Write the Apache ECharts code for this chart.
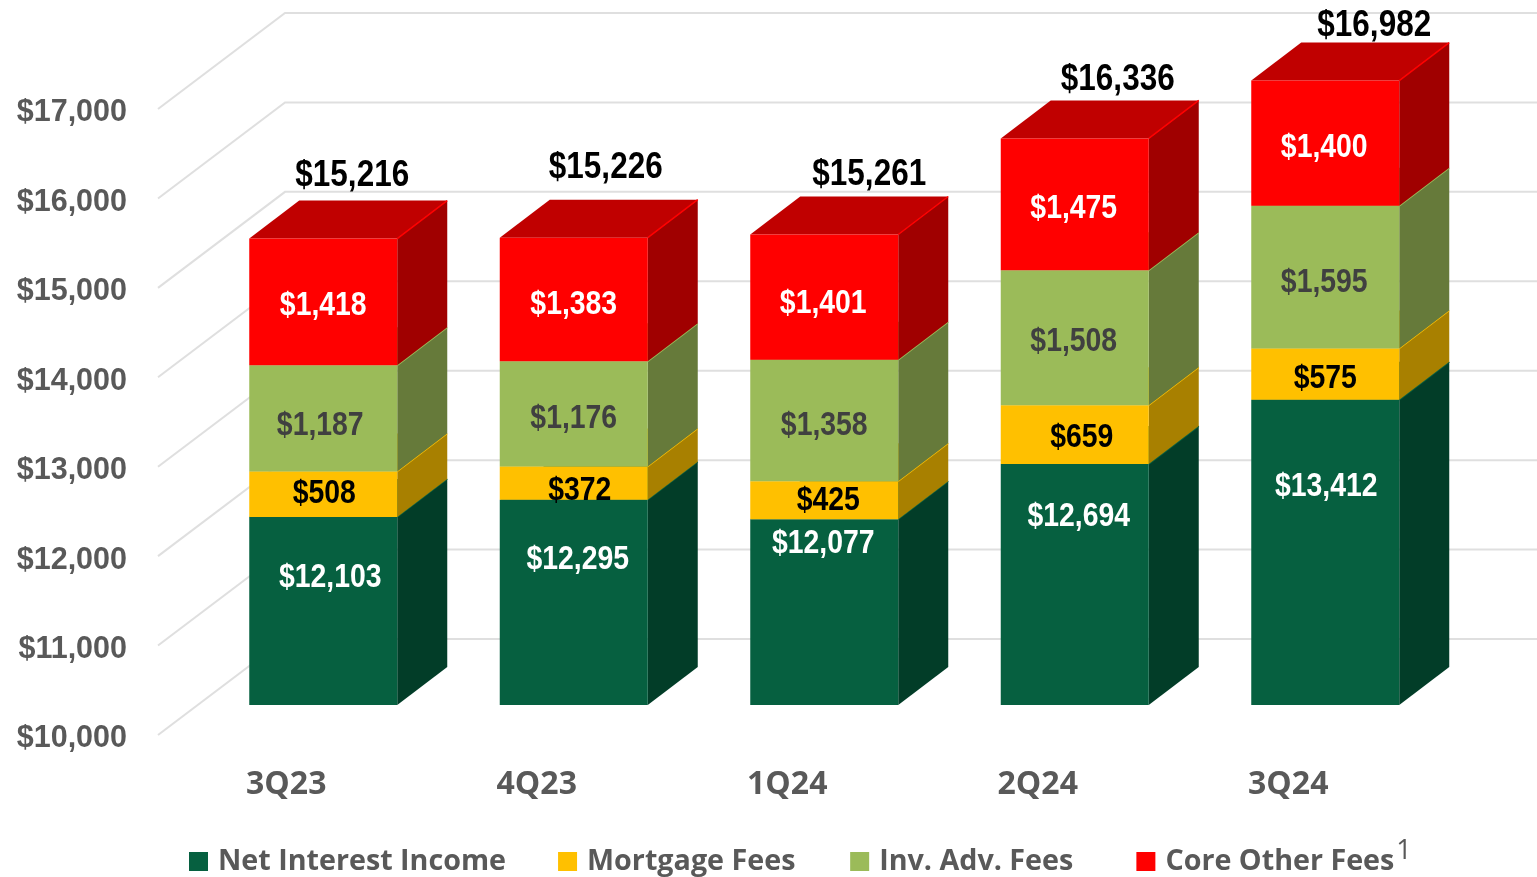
<!DOCTYPE html>
<html><head><meta charset="utf-8">
<style>html,body{margin:0;padding:0;background:#fff}#c{width:1537px;height:877px}</style>
<script src="https://cdn.jsdelivr.net/npm/echarts@6/dist/echarts.min.js"></script>
</head><body><div id="c"></div>
<script>
const categories = ['3Q23','4Q23','1Q24','2Q24','3Q24'];
const netInterestIncome = [12103,12295,12077,12694,13412];
const mortgageFees = [508,372,425,659,575];
const invAdvFees = [1187,1176,1358,1508,1595];
const coreOtherFees = [1418,1383,1401,1475,1400];
const totals = [15216,15226,15261,16336,16982];
const yTicks = [10000,11000,12000,13000,14000,15000,16000,17000];
const Y_MIN = 10000, Y_MAX = 17000;

// Presentation only: pseudo-3D projection and label nudges (pixels)
const WALL = {dx:127, dy:-96};
const FRONT = {dx:37, dy:-30};
const BAR_W = 148, SIDE = {dx:50, dy:-38};
const SANS = '"Liberation Sans",Arial,sans-serif';
const LABEL_DROP = 3;
const nudge = {
  'Net Interest Income': [[7,-36],[4,-45],[-1,-71],[4,-71],[1,-69]],
  'Mortgage Fees': [[1,-3],[6,5],[4,-2],[7,0],[0,2]],
  'Inv. Adv. Fees': [[-3,4],[0,2],[0,2],[-1,1],[-1,3]],
  'Core Other Fees': [[0,1],[0,2],[-1,4],[-1,2],[-1,2]]
};
const totalNudge = [[29,-65],[32,-73],[45,-62],[43,-61],[49,-58]];

const fmt = v => '$' + v.toLocaleString('en-US');
let base = categories.map(() => 0);
function stacked(vals){
  const rows = vals.map((v,i) => [i, base[i], base[i]+v, v]);
  base = base.map((b,i) => b + vals[i]);
  return rows;
}
function boxSeries(name, vals, front, side, top, textColor){
  return {
    name, type:'custom', coordinateSystem:'cartesian2d', clip:false, z:3,
    itemStyle:{color:front},
    encode:{x:0,y:[1,2]},
    data: stacked(vals),
    renderItem(params, api){
      const c = api.coord([api.value(0), Math.max(api.value(1), Y_MIN)]);
      const t = api.coord([api.value(0), api.value(2)]);
      const x0 = c[0] + FRONT.dx - BAR_W/2, x1 = x0 + BAR_W;
      const yb = c[1] + FRONT.dy, yt = t[1] + FRONT.dy;
      const i = api.value(0), n = nudge[name][i];
      const kids = [
        {type:'polygon',shape:{points:[[x1,yb],[x1+SIDE.dx,yb+SIDE.dy],[x1+SIDE.dx,yt+SIDE.dy],[x1,yt]]},style:{fill:side}},
        {type:'polygon',shape:{points:[[x0,yt],[x1,yt],[x1+SIDE.dx,yt+SIDE.dy],[x0+SIDE.dx,yt+SIDE.dy]]},style:{fill:top}},
        {type:'rect',shape:{x:x0,y:yt,width:BAR_W,height:yb-yt},style:{fill:front}},
        {type:'polyline',shape:{points:[[x1,yt],[x1+SIDE.dx,yt+SIDE.dy]]},style:{fill:'none',stroke:front,lineWidth:1.5}},
        {type:'text',z2:10,x:(x0+x1)/2+n[0],y:(yt+yb)/2+n[1]+LABEL_DROP,scaleX:0.86,
          style:{text:fmt(api.value(3)),x:0,y:0,align:'center',verticalAlign:'middle',
          font:'bold 33px '+SANS,fill:textColor}}
      ];
      return {type:'group',children:kids};
    }
  };
}
const gridSeries = {
  name:'grid', type:'custom', coordinateSystem:'cartesian2d', clip:false, z:1, silent:true,
  encode:{y:0}, data: yTicks.map(v => [v]),
  renderItem(params, api){
    const p = api.coord([0, api.value(0)]);
    const lx = 158, ly = p[1];
    return {type:'polyline',shape:{points:[[lx,ly],[lx+WALL.dx,ly+WALL.dy],[api.getWidth(),ly+WALL.dy]]},
      style:{fill:'none',stroke:'#dfdfdf',lineWidth:2}};
  }
};
const totalSeries = {
  name:'total', type:'custom', coordinateSystem:'cartesian2d', clip:false, z:4, silent:true,
  encode:{x:0,y:1}, data: totals.map((v,i)=>[i,v]),
  renderItem(params, api){
    const i = api.value(0), p = api.coord([i, api.value(1)]), n = totalNudge[i];
    return {type:'text',x:p[0]+FRONT.dx+n[0],y:p[1]+FRONT.dy+n[1]+LABEL_DROP,scaleX:0.875,
      style:{text:fmt(api.value(1)),x:0,y:0,align:'center',verticalAlign:'middle',
      font:'bold 36px '+SANS,fill:'#000'}};
  }
};
const legendFont = {fontFamily:'"Open Sans",sans-serif',fontWeight:'bold',fontSize:28.7,color:'#595959'};
const option = {
  animation:false, backgroundColor:'#fff',
  grid:{left:161, top:109, width:1252.5, height:626, outerBoundsMode:'none'},
  legend:{
    left:189, top:838, padding:0, itemWidth:19, itemHeight:19, itemGap:52, icon:'rect',
    data:['Net Interest Income','Mortgage Fees','Inv. Adv. Fees','Core Other Fees'],
    selectedMode:false,
    formatter:n => n==='Core Other Fees' ? '{b|'+n+'}{s|1}' : n==='Inv. Adv. Fees' ? '{b|'+n+'}{g2|    }' : n==='Mortgage Fees' ? '{b|'+n+'}{g1| }' : '{b|'+n+'}',
    textStyle:{rich:{
      b:{...legendFont,padding:[0,0,0,5]},
      g1:{fontSize:10},
      g2:{fontSize:10},
      s:{fontFamily:'"Open Sans",sans-serif',fontSize:27,color:'#595959',verticalAlign:'top',padding:[0,0,20,2]}
    }}
  },
  xAxis:{type:'category',data:categories,axisLine:{show:false},axisTick:{show:false},splitLine:{show:false},
    axisLabel:{margin:34,color:'#595959',fontFamily:'"Open Sans",sans-serif',fontWeight:'bold',fontSize:32}},
  yAxis:{type:'value',min:Y_MIN,max:Y_MAX,interval:1000,axisLine:{show:false},axisTick:{show:false},splitLine:{show:false},
    axisLabel:{margin:34,color:'#595959',fontFamily:SANS,fontWeight:'bold',fontSize:30.5,verticalAlign:'top',lineHeight:8,formatter:v=>fmt(v)}},
  series:[
    gridSeries,
    boxSeries('Net Interest Income',netInterestIncome,'#066040','#023d28','#066040','#fff'),
    boxSeries('Mortgage Fees',mortgageFees,'#ffc000','#a88000','#ffc000','#000'),
    boxSeries('Inv. Adv. Fees',invAdvFees,'#9bbb59','#667a3a','#9bbb59','#404040'),
    boxSeries('Core Other Fees',coreOtherFees,'#ff0000','#a00000','#c00000','#fff'),
    totalSeries
  ]
};
echarts.init(document.getElementById('c'),null,{renderer:'canvas'}).setOption(option);
</script></body></html>
